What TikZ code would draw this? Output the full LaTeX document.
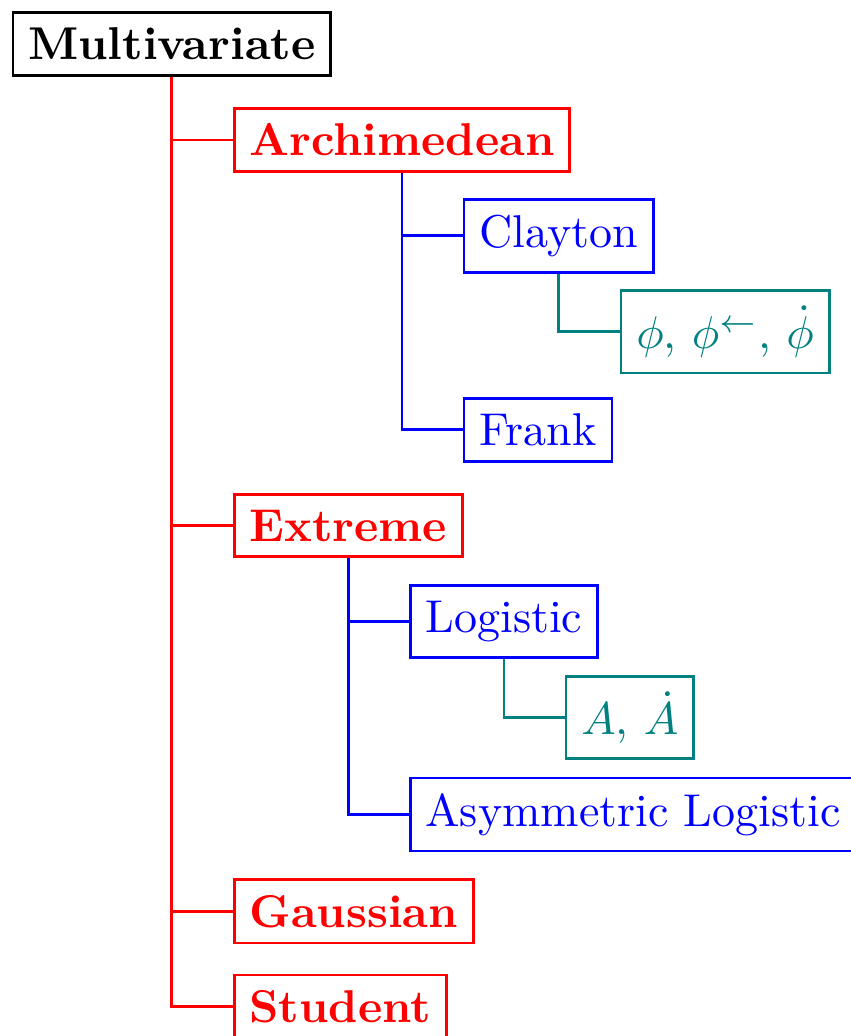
\documentclass[tikz,border=0pt]{standalone}

\begin{document}
\begin{tikzpicture}[
  box/.style={draw,semithick,anchor=west},
  family/.style={box,red,font=\bfseries},
  copula/.style={box,blue},
  gens/.style={box,teal},
  link/.style={semithick}
]
  \useasboundingbox (0,0) rectangle (6.5,-7.915);
  \node[draw,semithick,font=\bfseries] (multi) at (1.313,-.336) {Multivariate};
  \node[family] (arch) at (1.779,-1.069) {Archimedean};
  \node[copula] (clayton) at (3.535,-1.802) {Clayton};
  \node[gens] (phi) at (4.734,-2.535) {$\phi$, $\phi^{\leftarrow}$, $\dot{\phi}$};
  \node[copula] (frank) at (3.535,-3.283) {Frank};
  \node[family] (extreme) at (1.779,-4.016) {Extreme};
  \node[copula] (logistic) at (3.123,-4.749) {Logistic};
  \node[gens] (adep) at (4.314,-5.482) {$A$, $\dot{A}$};
  \node[copula] (asym) at (3.123,-6.223) {Asymmetric Logistic};
  \node[family] (gauss) at (1.779,-6.963) {Gaussian};
  \node[family] (student) at (1.779,-7.69) {Student};
  % tree edges
  \foreach \c in {arch,extreme,gauss,student}
    \draw[link,red] (multi.south) |- (\c.west);
  \foreach \c in {clayton,frank}
    \draw[link,blue] (arch.south) |- (\c.west);
  \foreach \c in {logistic,asym}
    \draw[link,blue] (extreme.south) |- (\c.west);
  \draw[link,teal] (clayton.south) |- (phi.west);
  \draw[link,teal] (logistic.south) |- (adep.west);
\end{tikzpicture}
\end{document}
